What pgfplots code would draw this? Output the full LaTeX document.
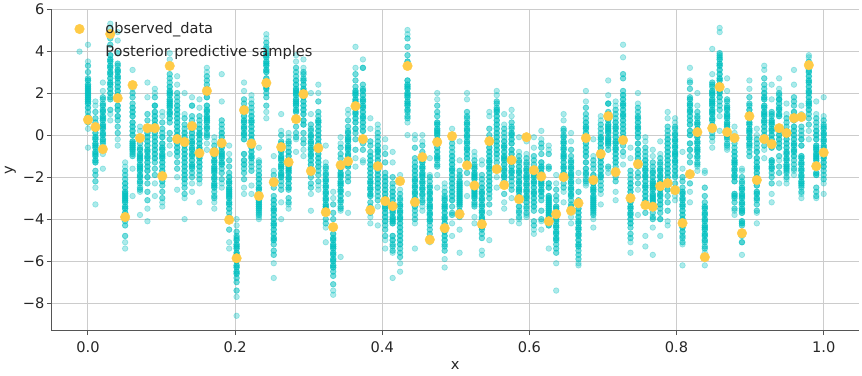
\documentclass[border=0pt]{standalone}
\usepackage{fontspec}
\setmainfont{DejaVu Sans}
\usepackage{pgfplots}
\usepackage{pgfplotstable}
\pgfplotsset{compat=1.18}
\definecolor{obsc}{HTML}{FFCB47}
\definecolor{sampc}{HTML}{04C0C0}
\definecolor{gridc}{HTML}{CCCCCC}
\definecolor{spinec}{HTML}{555555}
\definecolor{textc}{HTML}{262626}
\pgfplotstableread[header=false]{
0.0000 4.3 3.5 3.3 3.0 2.7 2.6 2.4 2.3 2.2 2.1 2.0 1.9 1.8 1.7 1.6 1.5 1.3 1.1 0.9 0.6 0.3 -0.6
0.0101 1.6 1.4 1.1 0.8 0.6 0.4 0.1 -0.1 -0.2 -0.4 -0.5 -0.6 -0.8 -0.9 -1.0 -1.2 -1.3 -1.7 -1.9 -2.2 -2.5 -3.3
0.0202 2.5 2.1 1.8 1.7 1.5 1.4 1.2 1.1 0.9 0.8 0.7 0.5 0.4 0.3 0.1 0.0 -0.2 -0.3 -0.4 -0.6 -0.9 -1.6
0.0303 5.3 5.1 4.9 4.6 4.3 3.8 3.6 3.5 3.3 3.2 3.0 2.9 2.7 2.5 2.4 2.2 2.0 1.8 1.7 1.2 1.0 0.7
0.0404 4.9 4.5 3.9 3.4 3.3 3.1 3.0 2.8 2.7 2.5 2.3 2.1 1.9 1.7 1.4 1.2 0.9 0.7 0.4 0.1 -0.2 -0.5
0.0505 -1.3 -1.5 -1.7 -1.9 -2.1 -2.3 -2.5 -2.7 -2.8 -2.9 -3.0 -3.1 -3.2 -3.4 -3.5 -3.7 -3.9 -4.1 -4.3 -4.8 -5.1 -5.4
0.0606 3.1 2.2 2.0 1.8 1.5 1.3 1.1 0.9 0.6 0.4 0.2 0.0 -0.3 -0.4 -0.5 -0.6 -0.7 -0.8 -0.9 -1.0 -1.6 -2.9
0.0707 0.4 0.2 -0.1 -0.4 -0.6 -0.7 -0.9 -1.0 -1.1 -1.2 -1.4 -1.5 -1.6 -1.7 -1.9 -2.0 -2.2 -2.3 -2.5 -2.6 -2.7 -3.8
0.0808 2.5 1.8 1.0 0.7 0.3 0.1 -0.1 -0.3 -0.5 -0.7 -0.8 -1.0 -1.1 -1.3 -1.5 -1.7 -2.0 -2.3 -2.7 -3.1 -3.5 -4.1
0.0909 2.2 2.0 1.8 1.4 1.4 1.1 0.9 0.7 0.5 0.3 0.1 -0.1 -0.3 -0.5 -0.7 -0.9 -1.1 -1.3 -1.6 -1.9 -2.3 -2.9
0.1010 1.1 0.9 0.6 0.3 0.1 -0.1 -0.4 -0.6 -0.7 -0.9 -1.0 -1.1 -1.3 -1.5 -1.7 -1.9 -2.2 -2.4 -2.7 -3.0 -3.2 -3.4
0.1111 3.9 3.6 2.9 2.7 2.5 2.3 2.1 2.0 1.9 1.7 1.6 1.5 1.4 1.3 1.1 1.0 0.8 0.6 0.1 -0.2 -0.5 -0.9
0.1212 2.8 2.4 2.0 1.8 1.6 1.4 1.2 1.0 0.8 0.6 0.4 0.2 0.0 -0.2 -0.4 -0.6 -0.8 -1.0 -1.3 -1.6 -2.0 -2.6
0.1313 2.0 1.0 0.8 0.5 0.3 0.1 -0.1 -0.3 -0.5 -0.7 -0.9 -1.1 -1.3 -1.5 -1.7 -1.9 -2.1 -2.3 -2.5 -2.8 -3.0 -4.0
0.1414 1.8 1.4 1.4 0.9 0.7 0.3 0.1 -0.1 -0.3 -0.4 -0.6 -0.7 -0.9 -1.0 -1.2 -1.4 -1.5 -1.6 -1.8 -2.0 -2.3 -2.7
0.1515 1.7 1.3 0.9 0.7 0.5 0.3 0.1 0.0 -0.2 -0.4 -0.6 -0.7 -0.9 -1.0 -1.1 -1.3 -1.5 -1.7 -1.9 -2.1 -2.3 -3.2
0.1616 3.2 3.0 2.8 2.6 2.4 2.2 2.0 1.8 1.4 1.2 1.1 0.9 0.8 0.7 0.6 0.4 0.3 0.1 0.0 -0.1 -0.4 -0.7
0.1717 -0.1 -0.3 -0.5 -0.7 -0.9 -1.0 -1.2 -1.3 -1.5 -1.6 -1.7 -1.8 -2.0 -2.1 -2.3 -2.4 -2.5 -2.7 -2.9 -3.0 -3.2 -3.5
0.1818 2.9 1.6 0.7 0.5 0.3 0.1 -0.1 -0.3 -0.4 -0.5 -0.6 -0.8 -0.9 -1.0 -1.1 -1.3 -1.4 -1.6 -1.8 -2.1 -2.3 -2.5
0.1919 -0.5 -0.9 -1.2 -1.5 -1.8 -2.0 -2.2 -2.3 -2.5 -2.6 -2.7 -2.8 -2.9 -3.0 -3.2 -3.3 -3.5 -3.7 -3.9 -4.5 -5.1 -5.4
0.2020 -4.0 -4.3 -4.6 -4.8 -4.9 -5.0 -5.2 -5.3 -5.4 -5.6 -5.7 -5.9 -6.0 -6.2 -6.3 -6.5 -6.6 -6.8 -7.0 -7.4 -7.7 -8.6
0.2121 2.5 2.1 1.7 1.5 1.3 1.1 0.9 0.7 0.6 0.4 0.3 0.1 0.0 -0.2 -0.9 -1.2 -1.4 -1.6 -1.8 -2.1 -2.5 -2.8
0.2222 1.9 1.7 1.5 1.3 1.1 0.9 0.7 0.6 0.4 0.2 0.0 -0.2 -0.4 -0.6 -0.8 -1.0 -1.1 -1.3 -1.5 -1.7 -2.4 -2.8
0.2323 -0.6 -1.2 -1.3 -1.5 -1.7 -1.9 -2.1 -2.3 -2.5 -2.6 -2.8 -2.9 -3.1 -3.2 -3.3 -3.4 -3.5 -3.6 -3.7 -3.8 -3.9 -4.0
0.2424 4.8 4.6 4.4 4.2 4.1 3.9 3.8 3.7 3.5 3.4 3.3 3.1 3.0 2.7 2.5 2.3 2.2 2.0 1.8 1.4 1.1 0.8
0.2525 -1.0 -1.7 -1.9 -2.5 -2.9 -3.1 -3.3 -3.5 -3.6 -3.8 -4.0 -4.2 -4.3 -4.5 -4.7 -4.9 -5.0 -5.2 -5.5 -5.7 -6.1 -6.8
0.2626 1.0 0.2 0.0 -0.3 -0.4 -0.5 -0.7 -0.8 -1.0 -1.1 -1.2 -1.4 -1.5 -1.6 -1.8 -1.9 -2.0 -2.2 -2.4 -2.6 -3.2 -4.0
0.2727 0.1 -0.1 -0.3 -0.4 -0.6 -0.8 -1.0 -1.2 -1.4 -1.5 -1.6 -1.7 -1.8 -2.0 -2.1 -2.3 -2.5 -2.6 -3.0 -3.2 -3.3 -3.5
0.2828 3.8 3.5 3.2 3.0 2.8 2.6 2.4 2.2 2.1 2.0 1.9 1.7 1.6 1.5 1.4 1.2 1.1 0.4 0.1 -0.1 -0.2 -0.8
0.2929 3.6 3.2 3.0 2.9 2.7 2.6 2.4 2.2 2.1 1.9 1.8 1.6 1.4 1.2 1.0 0.7 0.5 0.1 -0.2 -0.4 -0.7 -1.0
0.3030 2.0 1.0 0.5 0.3 0.2 0.0 -0.1 -0.3 -0.4 -0.6 -0.7 -0.9 -1.0 -1.2 -1.4 -1.6 -1.8 -2.0 -2.3 -2.5 -2.8 -3.6
0.3131 2.4 2.0 1.6 1.1 0.9 0.7 0.6 0.4 0.2 0.0 -0.2 -0.4 -0.6 -0.9 -1.1 -1.3 -1.5 -1.7 -1.9 -2.2 -2.4 -2.6
0.3232 -0.5 -1.3 -1.5 -1.6 -1.8 -1.9 -2.1 -2.2 -2.4 -2.5 -2.7 -2.8 -3.0 -3.1 -3.3 -3.4 -3.5 -3.7 -4.0 -4.2 -4.4 -5.1
0.3333 -2.7 -3.0 -3.3 -3.7 -4.0 -4.7 -4.9 -5.0 -5.2 -5.3 -5.4 -5.6 -5.7 -5.9 -6.0 -6.2 -6.3 -6.5 -6.7 -7.1 -7.4 -7.6
0.3434 -0.1 -0.4 -0.6 -0.9 -1.1 -1.4 -1.6 -1.8 -1.9 -2.0 -2.2 -2.3 -2.4 -2.6 -2.7 -2.9 -3.1 -3.2 -3.4 -3.5 -3.6 -5.8
0.3535 1.2 1.0 0.7 0.4 0.2 0.1 -0.1 -0.2 -0.3 -0.5 -0.6 -0.7 -0.9 -1.0 -1.2 -1.4 -1.5 -1.8 -2.0 -2.2 -2.8 -3.7
0.3636 4.2 3.2 2.9 2.6 2.3 2.1 2.0 1.9 1.7 1.6 1.4 1.3 1.1 1.0 0.8 0.6 0.3 0.1 -0.2 -0.7 -1.1 -1.5
0.3737 3.6 3.2 3.2 2.4 2.2 2.1 1.9 1.7 1.6 1.4 1.3 1.1 0.9 0.8 0.6 0.4 0.2 -0.2 -0.4 -0.7 -1.2 -1.3
0.3838 0.8 0.3 -0.3 -0.5 -0.8 -1.0 -1.2 -1.4 -1.6 -1.8 -2.0 -2.2 -2.3 -2.5 -2.6 -2.8 -2.9 -3.2 -3.4 -3.7 -3.9 -4.2
0.3939 0.5 0.3 0.1 -0.1 -0.3 -0.5 -0.7 -0.8 -1.0 -1.2 -1.4 -1.5 -1.7 -1.9 -2.1 -2.3 -2.5 -2.7 -2.9 -3.1 -3.4 -4.3
0.4040 -0.2 -0.6 -0.9 -1.3 -1.8 -2.0 -2.2 -2.4 -2.6 -2.8 -3.0 -3.2 -3.4 -3.5 -3.7 -3.9 -4.1 -4.3 -4.5 -4.8 -5.0 -5.4
0.4141 -0.8 -1.3 -2.0 -2.3 -2.5 -2.7 -2.9 -3.1 -3.4 -3.6 -3.7 -3.9 -4.0 -4.1 -4.2 -4.8 -5.0 -5.2 -5.3 -5.5 -5.6 -6.8
0.4242 -1.9 -2.6 -2.8 -3.0 -3.1 -3.3 -3.4 -3.6 -3.7 -3.9 -4.0 -4.2 -4.4 -4.6 -4.8 -5.0 -5.2 -5.4 -5.6 -5.8 -6.1 -6.5
0.4343 5.0 4.8 4.6 4.2 3.8 3.5 2.6 2.4 2.3 2.2 2.0 1.9 1.8 1.6 1.5 1.4 1.2 1.1 0.9 0.8 0.6 0.0
0.4444 0.0 -0.2 -0.6 -1.1 -1.3 -1.5 -1.7 -1.9 -2.1 -2.2 -2.4 -2.5 -2.7 -2.8 -3.0 -3.2 -3.4 -3.6 -3.8 -4.0 -4.2 -5.4
0.4545 0.0 -0.3 -0.5 -0.8 -1.0 -1.2 -1.3 -1.5 -1.6 -1.8 -1.9 -2.0 -2.2 -2.3 -2.5 -2.6 -2.8 -2.9 -3.1 -3.2 -3.4 -3.6
0.4646 -1.1 -1.9 -2.0 -2.2 -2.4 -2.5 -2.7 -2.8 -3.0 -3.1 -3.3 -3.4 -3.5 -3.7 -3.8 -4.0 -4.1 -4.3 -4.5 -4.7 -4.9 -5.1
0.4747 2.0 1.7 1.4 1.1 0.9 0.6 0.5 0.3 0.2 0.1 0.0 -0.2 -0.4 -0.6 -0.8 -1.0 -1.1 -1.2 -1.4 -1.5 -1.9 -2.5
0.4848 -2.3 -2.5 -2.7 -2.9 -3.0 -3.1 -3.3 -3.4 -3.5 -3.7 -3.9 -4.0 -4.2 -4.4 -4.6 -4.8 -5.0 -5.2 -5.3 -5.5 -5.9 -6.3
0.4949 0.3 -0.2 -0.4 -0.6 -0.8 -1.0 -1.2 -1.4 -1.6 -1.7 -1.9 -2.1 -2.3 -2.5 -2.7 -2.9 -3.1 -3.4 -3.7 -3.8 -4.2 -4.8
0.5051 -0.3 -1.2 -1.7 -1.9 -2.0 -2.2 -2.3 -2.4 -2.5 -2.6 -2.7 -2.8 -2.9 -3.0 -3.1 -3.2 -3.3 -3.4 -3.6 -3.9 -4.5 -5.6
0.5152 2.0 1.7 1.1 0.9 0.8 0.6 0.5 0.3 0.2 0.0 -0.1 -0.3 -0.4 -0.6 -0.7 -0.9 -1.1 -1.3 -1.5 -1.8 -2.3 -2.9
0.5253 -0.8 -1.0 -1.2 -1.4 -1.5 -1.6 -1.8 -1.9 -2.0 -2.1 -2.3 -2.4 -2.6 -2.7 -2.8 -2.9 -3.0 -3.2 -3.3 -3.4 -3.9 -4.2
0.5354 -1.2 -1.4 -1.9 -2.1 -2.3 -2.5 -2.7 -2.8 -3.0 -3.1 -3.3 -3.4 -3.6 -3.7 -3.9 -4.0 -4.4 -4.5 -4.7 -4.9 -5.5 -5.7
0.5455 1.1 0.9 0.3 0.0 -0.4 -0.6 -0.8 -1.0 -1.2 -1.3 -1.5 -1.6 -1.8 -2.0 -2.2 -2.4 -2.6 -2.8 -3.0 -3.3 -3.7 -5.0
0.5556 2.1 1.9 1.6 1.5 1.3 1.2 1.1 0.9 0.7 0.5 0.3 0.1 -0.1 -0.3 -0.5 -0.7 -0.9 -1.1 -1.3 -1.6 -2.0 -2.5
0.5657 1.0 0.5 0.3 0.1 -0.1 -0.3 -0.5 -0.6 -0.8 -1.0 -1.1 -1.2 -1.4 -1.6 -1.7 -1.9 -2.0 -2.2 -2.4 -2.8 -3.2 -3.5
0.5758 1.2 0.9 0.6 0.4 0.3 0.1 0.0 -0.2 -0.4 -0.7 -0.9 -1.1 -1.3 -1.5 -1.7 -1.8 -2.0 -2.2 -2.4 -2.6 -3.0 -4.1
0.5859 -0.1 -0.8 -1.0 -1.2 -1.3 -1.5 -1.7 -1.8 -2.0 -2.2 -2.3 -2.5 -2.6 -2.7 -2.9 -3.0 -3.4 -3.6 -3.7 -3.9 -4.0 -4.2
0.5960 -0.3 -0.9 -1.1 -1.3 -1.4 -1.6 -1.7 -1.9 -2.0 -2.1 -2.3 -2.4 -2.6 -2.7 -2.9 -3.0 -3.2 -3.4 -3.5 -3.7 -3.8 -3.9
0.6061 -0.1 -0.6 -1.0 -1.2 -1.4 -1.6 -1.7 -1.9 -2.0 -2.2 -2.3 -2.5 -2.7 -2.8 -3.0 -3.2 -3.4 -3.6 -4.1 -4.3 -4.5 -4.7
0.6162 0.2 -0.2 -0.4 -0.6 -0.9 -1.3 -1.5 -1.6 -1.8 -1.9 -2.0 -2.2 -2.3 -2.4 -2.6 -2.7 -2.9 -3.1 -3.6 -4.0 -4.1 -4.5
0.6263 -0.5 -0.7 -0.9 -1.5 -1.6 -2.3 -2.5 -2.9 -3.0 -3.1 -3.2 -3.3 -3.4 -3.5 -3.6 -3.7 -3.8 -3.9 -4.0 -4.3 -4.3 -5.4
0.6364 -1.9 -2.3 -2.6 -2.9 -3.1 -3.4 -3.5 -3.7 -3.8 -4.0 -4.1 -4.3 -4.4 -4.6 -4.7 -4.9 -5.0 -5.2 -5.4 -5.6 -6.1 -7.4
0.6465 1.0 0.7 0.3 0.2 0.0 -0.1 -0.3 -0.4 -0.6 -0.7 -0.9 -1.0 -1.1 -1.3 -1.5 -1.6 -1.8 -2.0 -2.3 -2.5 -2.7 -3.2
0.6566 0.1 -0.3 -0.7 -1.0 -1.2 -1.3 -1.5 -1.6 -1.8 -1.9 -2.0 -2.2 -2.3 -2.5 -2.6 -2.8 -2.9 -3.1 -3.3 -3.4 -3.9 -4.2
0.6667 -1.8 -2.2 -2.7 -3.1 -3.3 -3.5 -3.7 -3.9 -4.1 -4.2 -4.4 -4.5 -4.7 -4.8 -5.0 -5.2 -5.3 -5.5 -5.7 -5.9 -6.1 -6.2
0.6768 2.1 1.6 1.3 1.0 0.8 0.6 0.4 0.3 0.1 -0.1 -0.4 -0.6 -0.8 -1.0 -1.3 -1.6 -1.8 -1.9 -2.1 -2.2 -2.3 -2.4
0.6869 -0.2 -1.0 -1.2 -1.4 -1.6 -1.9 -2.3 -2.5 -2.6 -2.7 -2.9 -3.0 -3.1 -3.2 -3.3 -3.4 -3.5 -3.6 -3.7 -3.8 -4.0 -4.4
0.6970 0.9 0.7 0.5 0.3 0.1 -0.1 -0.2 -0.4 -0.6 -0.8 -1.0 -1.1 -1.3 -1.5 -1.7 -1.9 -2.0 -2.2 -2.4 -2.6 -2.8 -3.3
0.7071 2.6 1.9 1.5 1.5 1.1 1.0 0.8 0.7 0.5 0.4 0.3 0.2 0.1 -0.1 -0.2 -0.3 -0.4 -0.5 -0.7 -1.5 -1.6 -1.8
0.7172 1.6 1.4 1.2 1.0 0.8 0.6 0.4 0.3 0.1 -0.1 -0.3 -0.4 -0.6 -0.7 -0.9 -1.1 -1.3 -1.5 -2.0 -2.2 -2.7 -3.1
0.7273 4.3 3.7 2.9 2.7 2.1 1.9 1.7 1.5 1.4 1.2 1.0 0.9 0.7 0.5 0.3 0.1 -0.1 -0.3 -0.5 -0.8 -1.0 -1.4
0.7374 -0.6 -1.1 -1.7 -1.9 -2.1 -2.3 -2.5 -2.7 -3.0 -3.1 -3.2 -3.4 -3.5 -3.7 -3.8 -4.0 -4.2 -4.4 -4.7 -4.9 -5.1 -5.6
0.7475 2.0 1.5 1.3 1.1 0.9 0.8 0.6 0.4 0.3 0.1 -0.1 -0.4 -0.7 -0.9 -1.1 -1.3 -1.5 -1.8 -2.0 -2.3 -2.6 -3.8
0.7576 -0.1 -0.3 -0.6 -0.8 -1.0 -1.2 -1.4 -1.6 -1.7 -1.9 -2.0 -2.2 -2.4 -2.5 -2.7 -2.9 -3.1 -3.2 -3.4 -3.7 -4.8 -5.3
0.7677 -0.7 -1.0 -1.3 -1.5 -1.7 -1.8 -2.0 -2.2 -2.3 -2.4 -2.5 -2.6 -2.8 -2.9 -3.0 -3.1 -3.2 -3.7 -3.9 -4.0 -4.4 -5.7
0.7778 -0.3 -0.9 -1.1 -1.3 -1.4 -1.6 -1.7 -1.9 -2.0 -2.2 -2.3 -2.5 -2.6 -2.8 -2.9 -3.1 -3.3 -3.5 -3.7 -4.0 -4.0 -4.8
0.7879 1.1 0.8 0.4 0.2 0.0 -0.2 -0.4 -0.6 -0.8 -1.0 -1.2 -1.4 -1.6 -1.8 -2.0 -2.3 -2.6 -2.9 -3.2 -3.6 -4.1 -4.3
0.7980 0.8 0.6 0.4 0.3 0.1 0.0 -0.2 -0.3 -0.5 -0.6 -0.8 -0.9 -1.0 -1.2 -1.3 -1.5 -1.7 -1.9 -2.0 -2.3 -2.9 -3.1
0.8081 -0.8 -1.6 -2.0 -2.2 -2.5 -2.7 -2.8 -3.0 -3.1 -3.3 -3.4 -3.6 -3.8 -4.0 -4.3 -4.4 -4.6 -4.8 -4.9 -5.1 -5.2 -6.2
0.8182 3.2 2.6 2.5 2.2 1.8 1.7 1.5 1.4 1.2 1.1 0.9 0.7 0.5 0.2 0.0 -0.4 -0.7 -1.0 -1.3 -2.3 -2.7 -3.2
0.8283 2.0 1.4 1.1 0.9 0.8 0.6 0.5 0.3 0.2 0.0 -0.1 -0.3 -0.4 -0.6 -0.7 -0.8 -1.0 -1.1 -1.3 -1.4 -1.5 -1.7
0.8384 -1.7 -1.8 -2.5 -2.9 -3.2 -3.4 -3.5 -3.7 -3.8 -4.0 -4.1 -4.3 -4.4 -4.5 -4.7 -4.8 -5.0 -5.1 -5.3 -5.4 -5.6 -6.2
0.8485 4.1 2.9 2.5 2.4 2.3 2.1 2.0 1.9 1.7 1.6 1.5 1.4 1.2 1.1 1.0 0.8 0.7 0.5 0.1 -0.1 -0.3 -0.6
0.8586 5.1 4.9 3.9 3.8 3.7 3.6 3.4 3.3 3.1 2.9 2.7 2.6 2.4 2.3 2.1 2.0 1.8 1.6 1.4 1.2 0.9 0.2
0.8687 2.7 2.1 1.7 1.6 1.4 1.3 1.2 1.0 0.9 0.8 0.6 0.5 0.4 0.2 0.1 0.0 -0.1 -0.2 -0.4 -0.5 -0.6 -0.7
0.8788 0.4 0.1 -0.1 -0.4 -0.6 -0.8 -1.0 -1.2 -1.3 -1.4 -1.6 -1.7 -1.9 -2.0 -2.2 -2.8 -2.9 -3.0 -3.2 -3.5 -3.6 -3.8
0.8889 -1.6 -1.7 -2.0 -2.2 -2.3 -2.5 -2.6 -2.8 -2.9 -3.0 -3.2 -3.3 -3.5 -3.6 -3.7 -4.1 -4.2 -4.3 -4.8 -5.1 -5.7 -5.1
0.8990 2.6 2.2 1.8 1.5 1.4 1.2 1.0 0.9 0.8 0.6 0.5 0.3 0.2 0.1 -0.1 -0.2 -0.4 -0.5 -0.6 -0.8 -1.0 -1.0
0.9091 0.3 0.0 -0.2 -0.4 -0.6 -0.8 -1.1 -1.3 -1.5 -1.6 -1.8 -2.0 -2.2 -2.4 -2.7 -2.8 -3.0 -3.1 -3.3 -3.6 -3.7 -4.2
0.9192 3.3 3.1 2.7 2.4 2.2 2.0 1.8 1.7 1.4 1.3 1.1 1.0 0.9 0.7 0.6 0.4 0.2 0.0 -0.2 -0.5 -0.7 -1.1
0.9293 2.4 1.7 1.1 1.0 0.9 0.7 0.6 0.5 0.3 0.2 0.0 -0.2 -0.6 -1.2 -1.3 -1.5 -1.6 -1.8 -2.0 -2.3 -2.8 -3.2
0.9394 2.7 2.2 2.0 1.9 1.7 1.7 1.5 1.3 1.2 1.0 0.9 0.3 0.2 0.0 -0.2 -0.4 -0.6 -1.0 -1.5 -1.8 -2.3 -1.2
0.9495 1.5 1.0 0.8 0.6 0.4 0.2 0.0 -0.2 -0.4 -0.6 -0.8 -0.9 -1.1 -1.2 -1.4 -1.5 -1.6 -1.7 -1.8 -2.0 -2.1 -2.3
0.9596 3.1 2.4 1.8 1.6 1.4 1.1 0.9 0.7 0.4 0.2 0.0 -0.2 -0.4 -0.5 -0.7 -0.8 -1.0 -1.2 -1.4 -1.6 -1.7 -1.9
0.9697 1.4 1.0 0.4 0.2 0.0 -0.2 -0.5 -1.0 -1.1 -1.3 -1.4 -1.6 -1.7 -1.9 -2.0 -2.2 -2.3 -2.4 -2.5 -2.7 -2.8 -3.0
0.9798 3.8 3.7 3.5 3.3 3.1 3.0 2.8 2.6 2.5 2.3 2.1 2.0 1.8 1.6 1.5 1.4 1.2 1.0 0.8 0.5 0.2 -0.2
0.9899 1.6 1.0 0.8 0.6 0.4 0.2 0.0 -0.2 -0.5 -0.6 -0.7 -0.9 -1.0 -1.1 -1.2 -1.8 -1.9 -2.5 -2.7 -2.9 -3.0 -0.8
1.0000 1.8 0.9 0.7 0.5 0.4 0.3 0.1 0.0 -0.2 -0.3 -0.5 -0.6 -0.8 -1.0 -1.1 -1.3 -1.5 -1.7 -1.9 -2.1 -2.3 -2.8
}\samples
\pgfplotstableread[header=false]{
0.0000 0.73
0.0101 0.38
0.0202 -0.67
0.0303 4.81
0.0404 1.76
0.0505 -3.90
0.0606 2.38
0.0707 -0.14
0.0808 0.33
0.0909 0.33
0.1010 -1.95
0.1111 3.29
0.1212 -0.19
0.1313 -0.33
0.1414 0.43
0.1515 -0.86
0.1616 2.10
0.1717 -0.81
0.1818 -0.38
0.1919 -4.03
0.2020 -5.86
0.2121 1.19
0.2222 -0.41
0.2323 -2.90
0.2424 2.48
0.2525 -2.24
0.2626 -0.57
0.2727 -1.29
0.2828 0.76
0.2929 1.95
0.3030 -1.71
0.3131 -0.62
0.3232 -3.67
0.3333 -4.38
0.3434 -1.43
0.3535 -1.25
0.3636 1.38
0.3737 -0.19
0.3838 -3.57
0.3939 -1.48
0.4040 -3.14
0.4141 -3.38
0.4242 -2.19
0.4343 3.29
0.4444 -3.19
0.4545 -1.05
0.4646 -4.98
0.4747 -0.33
0.4848 -4.43
0.4949 -0.05
0.5051 -3.76
0.5152 -1.44
0.5253 -2.40
0.5354 -4.24
0.5455 -0.29
0.5556 -1.62
0.5657 -2.38
0.5758 -1.19
0.5859 -3.05
0.5960 -0.10
0.6061 -1.67
0.6162 -1.97
0.6263 -4.10
0.6364 -3.76
0.6465 -2.00
0.6566 -3.60
0.6667 -3.24
0.6768 -0.14
0.6869 -2.14
0.6970 -0.90
0.7071 0.90
0.7172 -1.76
0.7273 -0.24
0.7374 -3.00
0.7475 -1.38
0.7576 -3.33
0.7677 -3.41
0.7778 -2.43
0.7879 -2.29
0.7980 -2.62
0.8081 -4.19
0.8182 -1.86
0.8283 0.14
0.8384 -5.81
0.8485 0.33
0.8586 2.29
0.8687 0.14
0.8788 -0.14
0.8889 -4.67
0.8990 0.90
0.9091 -2.14
0.9192 -0.19
0.9293 -0.43
0.9394 0.33
0.9495 0.10
0.9596 0.81
0.9697 0.86
0.9798 3.33
0.9899 -1.48
1.0000 -0.83
}\observed
\begin{document}
\begin{tikzpicture}[x=1pt,y=1pt]
\path[use as bounding box] (0,0) rectangle (862,375);
\begin{axis}[
  at={(51.5pt,44.5pt)}, anchor=south west,
  scale only axis, width=807.5pt, height=321.5pt,
  xmin=-0.0496, xmax=1.048, ymin=-9.3, ymax=6,
  axis lines*=left,
  axis line style={draw=spinec, line width=1pt, -},
  tick align=outside, major tick length=4.5pt,
  tick style={draw=spinec, line width=1pt},
  grid=major, grid style={draw=gridc, line width=1pt},
  xtick={0,0.2,0.4,0.6,0.8,1},
  xticklabels={0.0,0.2,0.4,0.6,0.8,1.0},
  ytick={-8,-6,-4,-2,0,2,4,6},
  yticklabels={−8,−6,−4,−2,0,2,4,6},
  every tick label/.append style={font=\fontsize{14.6}{17}\selectfont, text=textc},
  xticklabel style={yshift=-3.5pt},
  yticklabel style={xshift=1pt},
  xlabel={x}, ylabel={y},
  label style={font=\fontsize{14.6}{17}\selectfont, text=textc},
  xlabel style={at={(axis description cs:0.5,-0.108)}, anchor=center},
  ylabel style={at={(axis description cs:-0.051,0.5)}, anchor=center},
  legend cell align=left,
  legend style={at={(axis description cs:0.0285,0.958)}, anchor=north west,
    draw=none, fill=none, inner sep=0pt, row sep=10pt,
    font=\fontsize{14.6}{17}\selectfont, text=textc,
    nodes={inner xsep=5pt, inner ysep=0pt},
    /tikz/every odd column/.append style={column sep=16pt}},
]
\addlegendimage{only marks, color=obsc, mark=*, mark size=4.8pt, mark options={draw=obsc, fill=obsc}}
\addlegendentry{observed\_data}
\addlegendimage{only marks, color=sampc, mark=*, mark size=2.8pt, mark options={draw=sampc, fill=sampc, opacity=0.33, line width=0.7pt}}
\addlegendentry{Posterior predictive samples}
\pgfplotsinvokeforeach{1,...,22}{
  \addplot[forget plot, only marks, color=sampc, mark=*, mark size=2.8pt, mark options={draw=sampc, fill=sampc, opacity=0.33, line width=0.7pt}]
    table[x index=0, y index=#1] {\samples};
}
\pgfplotsinvokeforeach{3,...,20}{
  \addplot[forget plot, only marks, color=sampc, mark=*, mark size=2.8pt, mark options={draw=sampc, fill=sampc, opacity=0.33, line width=0.7pt}]
    table[x index=0, y index=#1] {\samples};
}
\pgfplotsinvokeforeach{6,...,17}{
  \addplot[forget plot, only marks, color=sampc, mark=*, mark size=2.8pt, mark options={draw=sampc, fill=sampc, opacity=0.33, line width=0.7pt}]
    table[x index=0, y index=#1] {\samples};
}
\addplot[forget plot, only marks, color=obsc, mark=*, mark size=4.8pt, mark options={draw=obsc, fill=obsc}]
  table[x index=0, y index=1] {\observed};
\end{axis}
\end{tikzpicture}
\end{document}
